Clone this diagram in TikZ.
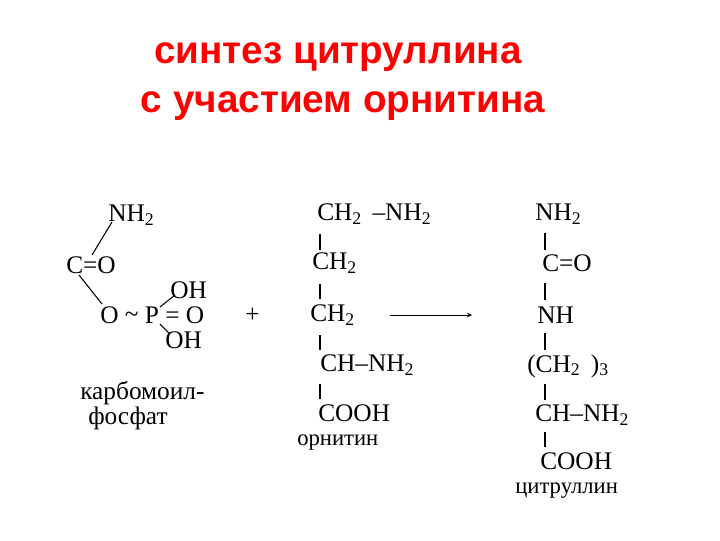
\documentclass[tikz,border=0pt]{standalone}
\usepackage{fontspec}
\setmainfont{Liberation Serif}
\newfontfamily\titlefont{Liberation Sans}
\begin{document}
\begin{tikzpicture}[x=0.75pt,y=-0.75pt,
  chem/.style={inner sep=0pt,anchor=west,font=\fontsize{19}{19}\selectfont},
  lbl/.style={inner sep=0pt,anchor=west,font=\fontsize{17}{17}\selectfont},
  ttl/.style={inner sep=0pt,font=\titlefont\bfseries\fontsize{29}{29}\selectfont,text=red},
  bond/.style={line width=0.8pt}]
\useasboundingbox (0,0) rectangle (720,540);
\node[ttl] (t1) at (338,57) {синтез цитруллина};
\node[ttl] (t2) at (343,106) {с участием орнитина};
% carbamoyl phosphate
\node[chem] (a1) at (108,215) {NH\textsubscript{2}};
\node[chem] (a2) at (66,265) {C=O};
\node[chem] (a3) at (170,290) {OH};
\node[chem] (a4) at (100,315) {O \raisebox{0.1ex}{\textasciitilde} P = O};
\node[chem] (a5) at (165,340) {OH};
\node[chem] (a6) at (80,393) {карбомоил-};
\node[chem] (a7) at (88,418) {фосфат};
\node[chem] (plus) at (245,315) {+};
\coordinate (b1) at (112,222); \coordinate (b2) at (92,255);
\draw[bond] (b1) -- (b2);
\coordinate (b3) at (79,275); \coordinate (b4) at (102,304);
\draw[bond] (b3) -- (b4);
\coordinate (b5) at (160,307); \coordinate (b6) at (175,295);
\draw[bond] (b5) -- (b6);
\coordinate (b7) at (160,324); \coordinate (b8) at (170,334);
\draw[bond] (b7) -- (b8);
% ornithine
\node[chem] (o1) at (317,214) {CH\textsubscript{2}\, –NH\textsubscript{2}};
\node[chem] (o2) at (312,263) {CH\textsubscript{2}};
\node[chem] (o3) at (310,315) {CH\textsubscript{2}};
\node[chem] (o4) at (320,365) {CH–NH\textsubscript{2}};
\node[chem] (o5) at (318,413) {COOH};
\node[lbl] (o6) at (297,443) {орнитин};
\draw[bond] (320,234) -- (320,250);
\draw[bond] (320,284) -- (320,299);
\draw[bond] (320,335) -- (320,350);
\draw[bond] (320,384) -- (320,399);
% arrow
\coordinate (r1) at (390,315); \coordinate (r2) at (472,315);
\draw[line width=0.7pt,-stealth] (r1) -- (r2);
% citrulline
\node[chem] (c1) at (535,214) {NH\textsubscript{2}};
\node[chem] (c2) at (542,263) {C=O};
\node[chem] (c3) at (537,315) {NH};
\node[chem] (c4) at (527,366) {(CH\textsubscript{2}\, )\textsubscript{3}};
\node[chem] (c5) at (535,415) {CH–NH\textsubscript{2}};
\node[chem] (c6) at (540,461) {COOH};
\node[lbl] (c7) at (515,491) {цитруллин};
\draw[bond] (545,233) -- (545,250);
\draw[bond] (545,283) -- (545,300);
\draw[bond] (545,333) -- (545,350);
\draw[bond] (545,384) -- (545,400);
\draw[bond] (545,432) -- (545,447);
\end{tikzpicture}
\end{document}
